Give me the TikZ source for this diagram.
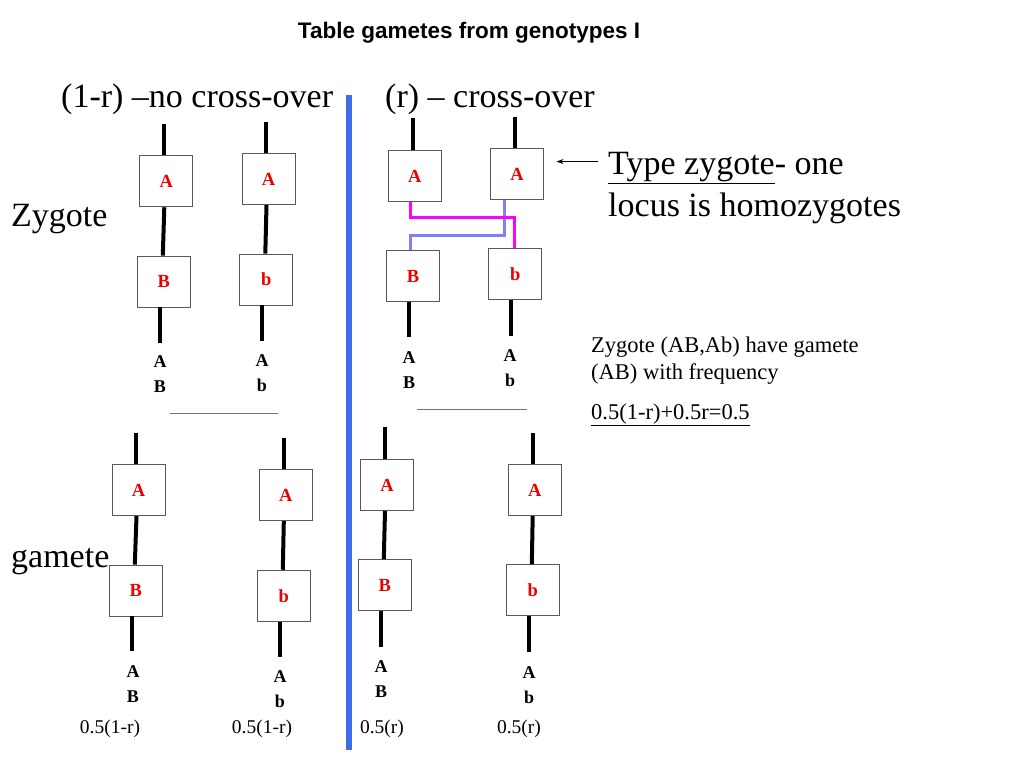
\documentclass[tikz,border=0pt]{standalone}
\usepackage{fontspec}
\setmainfont{Liberation Serif}
\newfontfamily\titlefont{Liberation Sans}
\usetikzlibrary{arrows.meta,calc}
\definecolor{divblue}{RGB}{64,108,232}
\definecolor{xlav}{RGB}{128,128,255}
\definecolor{xmag}{RGB}{255,0,255}
\definecolor{xred}{RGB}{235,0,0}
\begin{document}
\begin{tikzpicture}[x=1pt,y=-1pt,
  locus/.style={draw=black!65, line width=0.9pt, minimum width=53pt, minimum height=51pt, inner sep=0pt, text=xred, font=\fontsize{18.5}{20}\selectfont\bfseries},
  chrom/.style={line width=4pt, black},
  allele/.style={align=center, inner sep=0pt, font=\fontsize{18}{25}\selectfont\bfseries},
  big/.style={anchor=base west, inner sep=0pt, font=\fontsize{34}{40}\selectfont},
  small/.style={anchor=base west, inner sep=0pt, font=\fontsize{22.5}{26}\selectfont},
  freq/.style={anchor=base, inner sep=0pt, font=\fontsize{19.5}{22}\selectfont},
  sepline/.style={draw=black!55, line width=0.8pt},
  xline/.style={line width=3pt}
]
\useasboundingbox (0,0) rectangle (1024,768);

% title and headings
\node[anchor=base, inner sep=0pt, font=\titlefont\fontsize{22.5}{26}\selectfont\bfseries] (title) at (469,39) {Table gametes from genotypes I};
\node[big] (h1) at (61,107) {(1-r) –no cross-over};
\node[big] (h2) at (385,107) {(r) – cross-over};
\node[big] (lz) at (11,226) {Zygote};
\node[big] (lg) at (11,567) {gamete};
\node[big] (tz1) at (608,174) {\underline{Type zygote}- one};
\node[big] (tz2) at (608,216) {locus is homozygotes};
\node[small] (s1) at (591,352) {Zygote (AB,Ab) have gamete};
\node[small] (s2) at (591,379) {(AB) with frequency};
\node[small] (s3) at (591,419) {\underline{0.5(1-r)+0.5r=0.5}};

% divider
\coordinate (dt) at (349,95);
\coordinate (db) at (349,750);
\draw[divblue, line width=6pt] (dt) -- (db);

% zygote boxes
\node[locus] (z1a) at (166.3,181.3) {A};
\node[locus] (z1b) at (163.8,281.5) {B};
\node[locus] (z2a) at (268.5,179) {A};
\node[locus] (z2b) at (266.3,279.5) {b};
\node[locus] (z3a) at (414.7,176.3) {A};
\node[locus] (z3b) at (413,276) {B};
\node[locus] (z4a) at (517,174) {A};
\node[locus] (z4b) at (515.3,274.3) {b};
% gamete boxes
\node[locus] (g1a) at (138.5,490.2) {A};
\node[locus] (g1b) at (135.8,590.5) {B};
\node[locus] (g2a) at (285.8,495.2) {A};
\node[locus] (g2b) at (283.8,595.7) {b};
\node[locus] (g3a) at (387,485) {A};
\node[locus] (g3b) at (384.8,585) {B};
\node[locus] (g4a) at (534.7,490.2) {A};
\node[locus] (g4b) at (532.8,590.2) {b};

% chromosome ends
\coordinate (z1t) at (164,124);  \coordinate (z1e) at (160,343);
\coordinate (z2t) at (265.7,122);\coordinate (z2e) at (262,341);
\coordinate (z3t) at (413,118);  \coordinate (z3e) at (409,337);
\coordinate (z4t) at (515,117);  \coordinate (z4e) at (511.3,336);
\coordinate (g1t) at (136,433);  \coordinate (g1e) at (132.3,651);
\coordinate (g2t) at (283.7,438);\coordinate (g2e) at (279.7,657);
\coordinate (g3t) at (385,427);  \coordinate (g3e) at (381,647);
\coordinate (g4t) at (532.7,433);\coordinate (g4e) at (528.7,652);

\foreach \c in {z1,z2,z3,z4,g1,g2,g3,g4}{
  \draw[chrom] (\c t) -- (\c t |- \c a.north);
  \draw[chrom] (\c e |- \c b.south) -- (\c e);
}
\foreach \c in {z1,z2,g1,g2,g3,g4}{
  \draw[chrom] ([xshift=-2pt]\c a.south) -- ([xshift=-1pt]\c b.north);
}

% crossover connections
\draw[xline, xlav] ([xshift=-12.7pt]z4a.south) -- ++(0,36) -| ([xshift=-2.3pt]z3b.north);
\draw[xline, xmag] ([xshift=-4pt]z3a.south) -- ++(0,15) -| ([xshift=-1.3pt]z4b.north);

% arrow
\draw[line width=0.9pt, -{Stealth[length=7pt,width=5pt]}, shorten <=10pt, shorten >=12.5pt] ([yshift=6pt]tz1.west) -- ([yshift=6pt]tz1.west -| z4a.east);

% allele labels
\node[allele] (l1) at (160,374.5) {A\\B};
\node[allele] (l2) at (262,373) {A\\b};
\node[allele] (l3) at (409,370) {A\\B};
\node[allele] (l4) at (510,368) {A\\b};
\node[allele] (l5) at (133,684.5) {A\\B};
\node[allele] (l6) at (280,689.5) {A\\b};
\node[allele] (l7) at (381,679.5) {A\\B};
\node[allele] (l8) at (529,685) {A\\b};

% separators
\coordinate (sa1) at (170,413); \coordinate (sa2) at (278,413);
\coordinate (sb1) at (417,409); \coordinate (sb2) at (527,409);
\draw[sepline] (sa1) -- (sa2);
\draw[sepline] (sb1) -- (sb2);

% frequencies
\node[freq] (f1) at (110,733) {0.5(1-r)};
\node[freq] (f2) at (262,733) {0.5(1-r)};
\node[freq] (f3) at (382,733) {0.5(r)};
\node[freq] (f4) at (519,733) {0.5(r)};
\end{tikzpicture}
\end{document}
